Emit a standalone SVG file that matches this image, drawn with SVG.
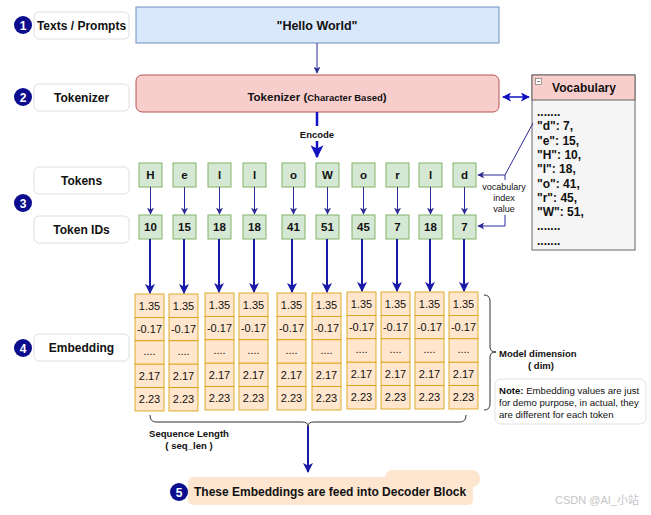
<svg xmlns="http://www.w3.org/2000/svg" xmlns:xlink="http://www.w3.org/1999/xlink" width="651" height="515" viewBox="0 0 651 515">
<defs>
<style>
text{font-family:"Liberation Sans",Arial,sans-serif;fill:#111}
.b{font-weight:bold}
.lbl{fill:#fff;stroke:#dedede;stroke-width:1}
.num{fill:#0c0c8e}
.numt{fill:#fff;font-weight:bold;font-size:12px;text-anchor:middle}
.tok{fill:#d5e8d4;stroke:#82b366;stroke-width:1}
.cell{fill:#ffe6cc;stroke:#d79b00;stroke-width:0.8}
.ct{font-size:11px;text-anchor:middle}
.tt{font-size:11.5px;font-weight:bold;text-anchor:middle}
.thin{stroke:#2c2c98;stroke-width:1;fill:none}
.thick{stroke:#1a1aa8;stroke-width:2;fill:none}
.brace{stroke:#333;stroke-width:1;fill:none}
.vt{font-size:12px;font-weight:bold}
</style>
<marker id="mThin" viewBox="0 0 10 10" refX="9" refY="5" markerWidth="7" markerHeight="7" markerUnits="userSpaceOnUse" orient="auto">
<path d="M0,0 L10,5 L0,10 L2.5,5 z" fill="#2c2c98"/>
</marker>
<marker id="mThick" viewBox="0 0 10 10" refX="9" refY="5" markerWidth="10" markerHeight="10" markerUnits="userSpaceOnUse" orient="auto">
<path d="M0,0 L10,5 L0,10 L2.5,5 z" fill="#1a1aa8"/>
</marker>
<marker id="mBig" viewBox="0 0 10 10" refX="9" refY="5" markerWidth="13" markerHeight="13" markerUnits="userSpaceOnUse" orient="auto">
<path d="M0,0 L10,5 L0,10 L2.5,5 z" fill="#1212c0"/>
</marker>
<marker id="mBlue" viewBox="0 0 10 10" refX="9" refY="5" markerWidth="9" markerHeight="9" markerUnits="userSpaceOnUse" orient="auto-start-reverse">
<path d="M0,0 L10,5 L0,10 L2.5,5 z" fill="#1010c0"/>
</marker>
<g id="emb-col">
<rect class="cell" x="0" y="0" width="29" height="23.4"/><text class="ct" x="14.5" y="15.8">1.35</text>
<rect class="cell" x="0" y="23.4" width="29" height="23.4"/><text class="ct" x="14.5" y="39.2">-0.17</text>
<rect class="cell" x="0" y="46.8" width="29" height="23.4"/><text class="ct" x="14.5" y="61">....</text>
<rect class="cell" x="0" y="70.2" width="29" height="23.4"/><text class="ct" x="14.5" y="86">2.17</text>
<rect class="cell" x="0" y="93.6" width="29" height="23.4"/><text class="ct" x="14.5" y="109.4">2.23</text>
</g>
</defs>
<rect width="651" height="515" fill="#fff"/>

<g id="step1">
<circle class="num" cx="23" cy="25" r="9"/><text class="numt" x="23" y="29.5">1</text>
<rect class="lbl" x="34" y="12" width="95" height="27" rx="5"/>
<text class="b" x="81.5" y="30" font-size="12" text-anchor="middle">Texts / Prompts</text>
</g>
<g id="step2">
<circle class="num" cx="23" cy="97" r="9"/><text class="numt" x="23" y="101.5">2</text>
<rect class="lbl" x="34" y="84" width="95" height="27" rx="5"/>
<text class="b" x="81.5" y="102" font-size="12" text-anchor="middle">Tokenizer</text>
</g>
<g id="step3">
<circle class="num" cx="23" cy="203" r="9"/><text class="numt" x="23" y="207.5">3</text>
<rect class="lbl" x="34" y="167" width="95" height="27" rx="5"/>
<text class="b" x="81.5" y="185" font-size="12" text-anchor="middle">Tokens</text>
<rect class="lbl" x="34" y="216" width="95" height="27" rx="5"/>
<text class="b" x="81.5" y="234" font-size="12" text-anchor="middle">Token IDs</text>
</g>
<g id="step4">
<circle class="num" cx="23" cy="348" r="9"/><text class="numt" x="23" y="352.5">4</text>
<rect class="lbl" x="34" y="334" width="95" height="27" rx="5"/>
<text class="b" x="81.5" y="352" font-size="12" text-anchor="middle">Embedding</text>
</g>

<g id="input">
<rect x="136" y="7" width="363" height="36" fill="#dae8fc" stroke="#6c8ebf" stroke-width="1"/>
<text class="b" x="317" y="29.5" font-size="12.5" text-anchor="middle">"Hello World"</text>
</g>

<g id="tokenizer">
<rect x="136" y="75" width="363" height="37" rx="6" fill="#f8cecc" stroke="#b85450" stroke-width="1"/>
<text class="b" x="317" y="101" text-anchor="middle" font-size="11.5">Tokenizer (<tspan font-size="9.5">Character Based</tspan>)</text>
</g>

<g id="vocabulary">
<rect x="532" y="75" width="103" height="175" fill="#f5f5f5" stroke="#666" stroke-width="1"/>
<rect x="532" y="75" width="103" height="25" fill="#f8cecc" stroke="#666" stroke-width="1"/>
<rect x="535.5" y="78.5" width="6" height="6" fill="#fff" stroke="#777" stroke-width="0.7"/>
<line x1="537" y1="81.5" x2="540" y2="81.5" stroke="#555" stroke-width="0.8"/>
<text class="b" x="584" y="92" font-size="12" text-anchor="middle">Vocabulary</text>
<text class="vt" x="537" y="116">.......</text>
<text class="vt" x="537" y="130.3">"d": 7,</text>
<text class="vt" x="537" y="144.6">"e": 15,</text>
<text class="vt" x="537" y="158.9">"H": 10,</text>
<text class="vt" x="537" y="173.2">"l": 18,</text>
<text class="vt" x="537" y="187.5">"o": 41,</text>
<text class="vt" x="537" y="201.8">"r": 45,</text>
<text class="vt" x="537" y="216.1">"W": 51,</text>
<text class="vt" x="537" y="230.4">.......</text>
<text class="vt" x="537" y="244.7">.......</text>
</g>

<g id="tokens">
<rect class="tok" x="139" y="163" width="23" height="24"/><text class="tt" x="150.5" y="179">H</text>
<rect class="tok" x="173" y="163" width="23" height="24"/><text class="tt" x="184.5" y="179">e</text>
<rect class="tok" x="208" y="163" width="23" height="24"/><text class="tt" x="219.5" y="179">l</text>
<rect class="tok" x="243" y="163" width="23" height="24"/><text class="tt" x="254.5" y="179">l</text>
<rect class="tok" x="282" y="163" width="23" height="24"/><text class="tt" x="293.5" y="179">o</text>
<rect class="tok" x="316" y="163" width="23" height="24"/><text class="tt" x="327.5" y="179">W</text>
<rect class="tok" x="352" y="163" width="23" height="24"/><text class="tt" x="363.5" y="179">o</text>
<rect class="tok" x="386" y="163" width="23" height="24"/><text class="tt" x="397.5" y="179">r</text>
<rect class="tok" x="419" y="163" width="23" height="24"/><text class="tt" x="430.5" y="179">l</text>
<rect class="tok" x="453" y="163" width="23" height="24"/><text class="tt" x="464.5" y="179">d</text>
</g>

<g id="token-ids">
<rect class="tok" x="139" y="215" width="23" height="24"/><text class="tt" x="150.5" y="231">10</text>
<rect class="tok" x="173" y="215" width="23" height="24"/><text class="tt" x="184.5" y="231">15</text>
<rect class="tok" x="208" y="215" width="23" height="24"/><text class="tt" x="219.5" y="231">18</text>
<rect class="tok" x="243" y="215" width="23" height="24"/><text class="tt" x="254.5" y="231">18</text>
<rect class="tok" x="282" y="215" width="23" height="24"/><text class="tt" x="293.5" y="231">41</text>
<rect class="tok" x="316" y="215" width="23" height="24"/><text class="tt" x="327.5" y="231">51</text>
<rect class="tok" x="352" y="215" width="23" height="24"/><text class="tt" x="363.5" y="231">45</text>
<rect class="tok" x="386" y="215" width="23" height="24"/><text class="tt" x="397.5" y="231">7</text>
<rect class="tok" x="419" y="215" width="23" height="24"/><text class="tt" x="430.5" y="231">18</text>
<rect class="tok" x="453" y="215" width="23" height="24"/><text class="tt" x="464.5" y="231">7</text>
</g>

<g id="embeddings">
<g id="emb-1"><use xlink:href="#emb-col" href="#emb-col" x="135" y="294"/></g>
<g id="emb-2"><use xlink:href="#emb-col" href="#emb-col" x="169" y="294"/></g>
<g id="emb-3"><use xlink:href="#emb-col" href="#emb-col" x="205" y="293"/></g>
<g id="emb-4"><use xlink:href="#emb-col" href="#emb-col" x="239" y="293"/></g>
<g id="emb-5"><use xlink:href="#emb-col" href="#emb-col" x="277" y="293"/></g>
<g id="emb-6"><use xlink:href="#emb-col" href="#emb-col" x="312" y="293"/></g>
<g id="emb-7"><use xlink:href="#emb-col" href="#emb-col" x="347" y="292"/></g>
<g id="emb-8"><use xlink:href="#emb-col" href="#emb-col" x="381" y="292"/></g>
<g id="emb-9"><use xlink:href="#emb-col" href="#emb-col" x="415" y="292"/></g>
<g id="emb-10"><use xlink:href="#emb-col" href="#emb-col" x="449" y="292"/></g>
</g>

<g id="connectors">
<line class="thin" x1="317" y1="43" x2="317" y2="73" marker-end="url(#mThin)"/>
<line x1="317" y1="112" x2="317" y2="126" stroke="#1212c0" stroke-width="2.5"/>
<line x1="317" y1="141" x2="317" y2="157" stroke="#1212c0" stroke-width="2.5" marker-end="url(#mBig)"/>
<line x1="503" y1="97" x2="529" y2="97" stroke="#1010c0" stroke-width="1.5" marker-start="url(#mBlue)" marker-end="url(#mBlue)"/>
<path class="thin" d="M533,123 L505,175"/>
<line class="thin" x1="505" y1="175" x2="478" y2="175" marker-end="url(#mThin)"/>
<line class="thin" x1="505" y1="175" x2="505" y2="180"/>
<path class="thin" d="M505,215 L505,226 L478,226" marker-end="url(#mThin)"/>
<g>
<line class="thin" x1="150.5" y1="187" x2="150.5" y2="214" marker-end="url(#mThin)"/>
<line class="thin" x1="184.5" y1="187" x2="184.5" y2="214" marker-end="url(#mThin)"/>
<line class="thin" x1="219.5" y1="187" x2="219.5" y2="214" marker-end="url(#mThin)"/>
<line class="thin" x1="254.5" y1="187" x2="254.5" y2="214" marker-end="url(#mThin)"/>
<line class="thin" x1="293.5" y1="187" x2="293.5" y2="214" marker-end="url(#mThin)"/>
<line class="thin" x1="327.5" y1="187" x2="327.5" y2="214" marker-end="url(#mThin)"/>
<line class="thin" x1="363.5" y1="187" x2="363.5" y2="214" marker-end="url(#mThin)"/>
<line class="thin" x1="397.5" y1="187" x2="397.5" y2="214" marker-end="url(#mThin)"/>
<line class="thin" x1="430.5" y1="187" x2="430.5" y2="214" marker-end="url(#mThin)"/>
<line class="thin" x1="464.5" y1="187" x2="464.5" y2="214" marker-end="url(#mThin)"/>
</g>
<g>
<line class="thick" x1="150" y1="239" x2="150" y2="293" marker-end="url(#mThick)"/>
<line class="thick" x1="184" y1="239" x2="184" y2="293" marker-end="url(#mThick)"/>
<line class="thick" x1="219" y1="239" x2="219" y2="292" marker-end="url(#mThick)"/>
<line class="thick" x1="254" y1="239" x2="254" y2="292" marker-end="url(#mThick)"/>
<line class="thick" x1="292" y1="239" x2="292" y2="292" marker-end="url(#mThick)"/>
<line class="thick" x1="327" y1="239" x2="327" y2="292" marker-end="url(#mThick)"/>
<line class="thick" x1="362" y1="239" x2="362" y2="291" marker-end="url(#mThick)"/>
<line class="thick" x1="397" y1="239" x2="397" y2="291" marker-end="url(#mThick)"/>
<line class="thick" x1="430" y1="239" x2="430" y2="291" marker-end="url(#mThick)"/>
<line class="thick" x1="464" y1="239" x2="464" y2="291" marker-end="url(#mThick)"/>
</g>
<path class="brace" d="M150,415 Q150,422 156,422 L302,422 Q308,422 308,426 Q308,422 314,422 L460,422 Q466,422 466,415"/>
<line x1="308" y1="426" x2="308" y2="472" stroke="#1a1aa8" stroke-width="2" marker-end="url(#mThick)"/>
<path class="brace" d="M484,295 Q490,295 490,301 L490,347 Q490,352 496,352 Q490,352 490,357 L490,404 Q490,410 484,410"/>
</g>

<text class="b" x="317" y="137.5" font-size="9.5" text-anchor="middle">Encode</text>
<g font-size="9" text-anchor="middle">
<text x="504" y="190">vocabulary</text>
<text x="504" y="201">index</text>
<text x="504" y="212">value</text>
</g>

<g id="model-dim">
<text class="b" x="499" y="357" font-size="9.5">Model dimension</text>
<text class="b" x="541" y="369" font-size="9.5" text-anchor="middle">( dim)</text>
</g>
<g id="note">
<rect x="495" y="379" width="151" height="45" rx="6" fill="#fff" stroke="#e2e2e2" stroke-width="1"/>
<text x="499" y="394" font-size="9.6"><tspan font-weight="bold">Note:</tspan> Embedding values are just</text>
<text x="499" y="406" font-size="9.6">for demo purpose, in actual, they</text>
<text x="499" y="418" font-size="9.6">are different for each token</text>
</g>
<g id="seq-len">
<text class="b" x="189" y="437" font-size="9.6" text-anchor="middle">Sequence Length</text>
<text class="b" x="189" y="449" font-size="9.6" text-anchor="middle">( seq_len )</text>
</g>

<g id="step5">
<rect x="385" y="470" width="95" height="17" rx="8" fill="#fce6d0"/>
<rect x="188" y="477" width="285" height="28" rx="5" fill="#fde5cf"/>
<circle class="num" cx="179" cy="492" r="9"/><text class="numt" x="179" y="496.5">5</text>
<text class="b" x="194" y="496" font-size="12">These Embeddings are feed into Decoder Block</text>
</g>
<text x="555" y="504" font-size="11" style="fill:#c4c4c4;font-family:'Liberation Sans','Noto Sans CJK SC',sans-serif">CSDN @AI_小站</text>
</svg>
